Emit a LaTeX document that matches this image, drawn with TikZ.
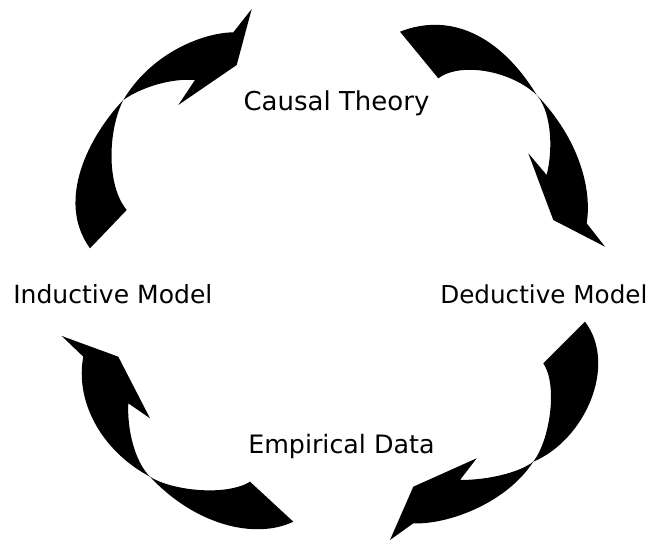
\documentclass[tikz,border=0pt]{standalone}
\usepackage{fontspec}
\setmainfont{DejaVu Sans}
\usepackage{tikz}
\usetikzlibrary{positioning}
\tikzset{%
	stage/.style={%
		inner sep=0pt,
		anchor=base west,
		font=\fontsize{18.5}{20}\selectfont
	},
	twistarrow/.style={%
		fill=black,
		draw=none
	}
}

\begin{document}
\begin{tikzpicture}[x=0.75pt, y=-0.75pt]
        \useasboundingbox (0,0) rectangle (651,541);
        % the four stages
        \node [stage, font=\fontsize{19.5}{21}\selectfont] (theory) at (243.3,111) {Causal Theory};
        \node [stage, font=\fontsize{18.8}{20}\selectfont] (inductive) at (13,303.3) {Inductive Model};
        \node [stage] (deductive) at (440,304) {Deductive Model};
        \node [stage, font=\fontsize{19}{20}\selectfont] (data) at (248,453.3) {Empirical Data};
        % inductive -> theory
        \fill [twistarrow] (90,248.3) -- (126.7,210)
            .. controls (106,185) and (108,130) .. (123.3,100)
            .. controls (140,88) and (170,78) .. (195,80)
            -- (178.3,105) -- (236.7,65) -- (251.7,9) -- (233.3,32.3)
            .. controls (200,33) and (150,55) .. (123.3,100)
            .. controls (90,135) and (55,200) .. (90,248.3) -- cycle;
        % theory -> deductive
        \fill [twistarrow] (400,31.7) -- (438.3,78.3)
            .. controls (460,62) and (510,70) .. (536.7,95)
            .. controls (550,110) and (554,145) .. (546.7,175)
            -- (528.3,153.3) -- (553.3,220) -- (605,246.7) -- (586.7,223.3)
            .. controls (592,190) and (580,140) .. (536.7,95)
            .. controls (500,35) and (450,12) .. (400,31.7) -- cycle;
        % deductive -> data
        \fill [twistarrow] (585,321.7) -- (543.3,363.3)
            .. controls (558,385) and (550,440) .. (533.3,461.7)
            .. controls (520,472) and (490,480) .. (460,480)
            -- (476.7,458.3) -- (413.3,486.7) -- (390,540) -- (413.3,523.3)
            .. controls (445,525) and (505,505) .. (533.3,461.7)
            .. controls (585,440) and (618,365) .. (585,321.7) -- cycle;
        % data -> inductive
        \fill [twistarrow] (61.7,336) -- (118.3,356.7) -- (150,418.3) -- (128.3,403.3)
            .. controls (127,430) and (135,462) .. (150,476.7)
            .. controls (170,490) and (225,497) .. (250,481.7)
            -- (293.3,521.7)
            .. controls (255,540) and (195,525) .. (150,476.7)
            .. controls (100,450) and (75,400) .. (83.3,356.7) -- cycle;
\end{tikzpicture}
\end{document}
